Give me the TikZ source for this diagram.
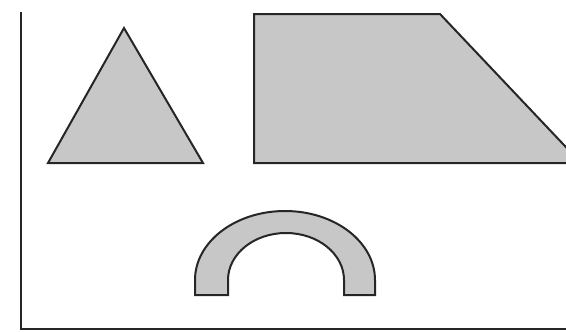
\documentclass[tikz,border=0pt]{standalone}
\usepackage{tikz}
\usetikzlibrary{calc}

\begin{document}
\begin{tikzpicture}[x=1pt, y=-1pt,
    piece/.style={draw=black!85, line width=2pt, fill=black!22, line join=miter}]
    \clip (0,0) rectangle (566,332);

    % Axes
    \coordinate (top) at (21,12);
    \coordinate (origin) at (21,329);
    \coordinate (right) at (566,329);
    \draw[line width=2.4pt, black!85] (top) -- (origin) -- (right);

    % Triangle
    \draw[piece] (124,28) -- (203,163) -- (48,163) -- cycle;

    % Trapezoid (cut off by the right edge)
    \draw[piece] (254,14) -- (440,14) -- (581,163) -- (254,163) -- cycle;

    % Arch
    \draw[piece] (195,295) -- (195,280)
        arc[start angle=180, end angle=360, x radius=90, y radius=69]
        -- (375,295) -- (344,295) -- (344,280)
        arc[start angle=0, end angle=-180, x radius=58, y radius=47]
        -- (228,295) -- cycle;
\end{tikzpicture}
\end{document}
